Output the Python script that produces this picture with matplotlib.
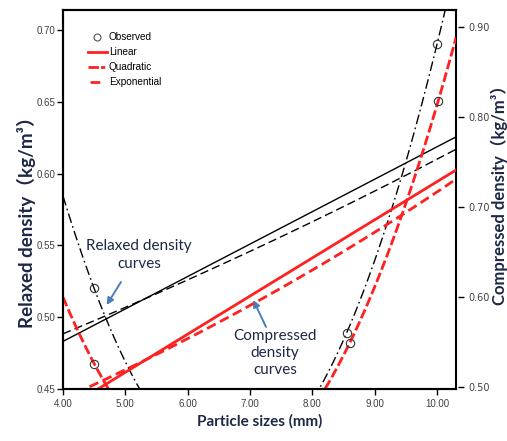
import numpy as np
import matplotlib
matplotlib.use("Agg")
import matplotlib.pyplot as plt
from matplotlib.lines import Line2D

plt.rcParams['lines.scale_dashes'] = False

# ---- observed data ----
relaxed_size = [4.5, 8.55, 10.0]        # particle size (mm)
relaxed_density = [0.520, 0.489, 0.690]  # kg/m3
compressed_size = [4.5, 8.6, 10.02]
compressed_density = [0.526, 0.549, 0.818]

x_ticks = [4.0, 5.0, 6.0, 7.0, 8.0, 9.0, 10.0]
left_ticks = [0.45, 0.50, 0.55, 0.60, 0.65, 0.70]
right_ticks = [0.50, 0.60, 0.70, 0.80, 0.90]

navy = "#1d2846"
arrow_blue = "#4a7ebb"
lab_font = ['Lato', 'Noto Sans CJK SC', 'DejaVu Sans']


def fits(x, y, grid):
    # curve estimation: linear, quadratic, exponential
    lin = np.polyval(np.polyfit(x, y, 1), grid)
    quad = np.polyval(np.polyfit(x, y, 2), grid)
    b, ln_a = np.polyfit(x, np.log(y), 1)
    expo = np.exp(ln_a + b * grid)
    return lin, quad, expo


fig = plt.figure(figsize=(5.07, 4.41), dpi=100)
ax = fig.add_axes([63 / 507, 1 - 389 / 441, (456 - 63) / 507, (389 - 10) / 441])
ax2 = ax.twinx()

x_min, x_max = 4.0, 10.305
grid = np.linspace(x_min, x_max, 300)

# relaxed density (left axis, black)
r_lin, r_quad, r_exp = fits(relaxed_size, relaxed_density, grid)
ax.plot(grid, r_lin, color="black", lw=1.0)
ax.plot(grid, r_quad, color="black", lw=1.0, linestyle=(0, (7, 2.5, 1.2, 2.5)))
ax.plot(grid, r_exp, color="black", lw=1.0, linestyle=(0, (6, 3)))
ax.plot(relaxed_size, relaxed_density, linestyle="none", marker="o", ms=6,
        mfc="none", mec="#333333", mew=0.8)

# compressed density (right axis, red)
c_lin, c_quad, c_exp = fits(compressed_size, compressed_density, grid)
ax2.plot(grid, c_lin, color="#ff2020", lw=2.0)
ax2.plot(grid, c_quad, color="#ff2020", lw=2.0, linestyle=(0, (7, 2.5)))
ax2.plot(grid, c_exp, color="#ff2020", lw=2.0, linestyle=(0, (7, 3.5)))
ax2.plot(compressed_size, compressed_density, linestyle="none", marker="o", ms=6,
         mfc="none", mec="#333333", mew=0.8)

ax.set_xlim(x_min, x_max)
ax.set_ylim(0.45, 0.7139)
ax2.set_ylim(0.4978, 0.9189)

ax.set_xticks(x_ticks)
ax.set_xticklabels([f"{v:.2f}" for v in x_ticks])
ax.set_yticks(left_ticks)
ax.set_yticklabels([f"{v:.2f}" for v in left_ticks])
ax2.set_yticks(right_ticks)
ax2.set_yticklabels([f"{v:.2f}" for v in right_ticks])

for a in (ax, ax2):
    a.tick_params(labelsize=7, labelcolor="#404040", length=4, width=1,
                  direction="out", pad=1.5)
    for t in a.get_xticklabels() + a.get_yticklabels():
        t.set_family("Liberation Sans")
    for s in a.spines.values():
        s.set_linewidth(1.5)
ax.tick_params(axis="x", pad=3)
ax2.spines["right"].set_position(("outward", 1.5))
ax2.spines["right"].set_color("none")
ax2.tick_params(axis="y", length=4, pad=3.5)

ax.set_xlabel("Particle sizes (mm)", fontsize=11, fontweight="bold",
              color=navy, family=lab_font, labelpad=4)
fig.text(26 / 507, 1 - 218 / 441, "Relaxed density（kg/m³）", rotation=90,
         ha="center", va="center", fontsize=13.5, fontweight="bold",
         color=navy, family=lab_font)
fig.text(499 / 507, 1 - 191 / 441, "Compressed density（kg/m³）", rotation=90,
         ha="center", va="center", fontsize=12, fontweight="bold",
         color=navy, family=lab_font)

# legend
handles = [
    Line2D([], [], linestyle="none", marker="o", ms=5, mfc="none", mec="#555555", mew=0.8),
    Line2D([], [], color="#ff2020", lw=2.0),
    Line2D([], [], color="#ff2020", lw=2.0, linestyle=(0, (7.5, 1.5, 3, 10))),
    Line2D([], [], color="#ff2020", lw=2.0, linestyle=(0, (0.001, 1.5, 7, 20))),
]
labels = ["Observed", "Linear", "Quadratic", "Exponential"]
ax.legend(handles, labels, loc="upper left", bbox_to_anchor=(0.04, 0.965),
          frameon=False, handlelength=1.9, handletextpad=0.2,
          labelspacing=0.5, prop={"family": "Liberation Sans", "size": 7.2})

# annotations
ax.text(5.22, 0.5433, "Relaxed density\ncurves", ha="center", va="center",
        fontsize=11, color=navy, family=lab_font, linespacing=1.3)
ax.annotate("", xy=(4.70, 0.5085), xytext=(4.93, 0.5245),
            arrowprops=dict(arrowstyle="-|>", color=arrow_blue, lw=1.4,
                            shrinkA=0, shrinkB=0, mutation_scale=10))
ax.text(7.40, 0.475, "Compressed\ndensity\ncurves", ha="center", va="center",
        fontsize=11, color=navy, family=lab_font, linespacing=1.25)
ax.annotate("", xy=(7.053, 0.512), xytext=(7.257, 0.4932),
            arrowprops=dict(arrowstyle="-|>", color=arrow_blue, lw=1.4,
                            shrinkA=0, shrinkB=0, mutation_scale=10))

fig.savefig("out.png", dpi=100)
